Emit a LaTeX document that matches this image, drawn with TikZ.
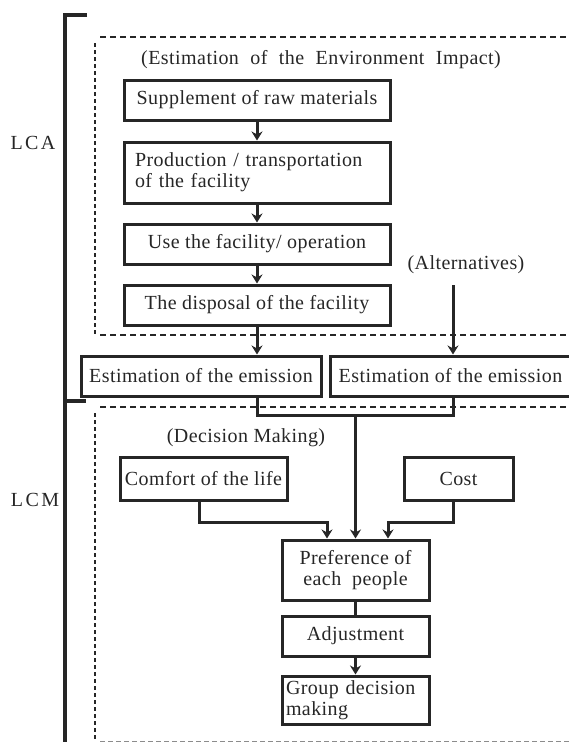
\documentclass[tikz,border=0pt]{standalone}
\usepackage{fontspec}
\setmainfont{Liberation Serif}[LetterSpace=2.2]
\usetikzlibrary{arrows.meta}
\begin{document}
\begin{tikzpicture}[x=1pt,y=-1pt,
  every node/.style={font=\fontsize{20}{21}\selectfont, text=black!85},
  box/.style={draw=black!85, line width=3pt, inner sep=0pt, align=center},
  arr/.style={line width=3pt, draw=black!85, -{Stealth[length=9pt,width=11pt]}},
  ln/.style={line width=3pt, draw=black!85},
  dsh/.style={line width=2.8pt, draw=black!85, dash pattern=on 6pt off 4pt},
  dshv/.style={line width=2.8pt, draw=black!85, dash pattern=on 4pt off 3pt},
  lbl/.style={inner sep=0pt},
  side/.style={inner sep=0pt, font=\fontsize{20}{21}\selectfont\addfontfeatures{LetterSpace=12}}]
\useasboundingbox (0,0) rectangle (569,742);
% bracket
\draw[line width=3.6pt, draw=black!85] (87,15) -- (65,15) -- (65,742);
\draw[line width=3.6pt, draw=black!85] (65,401) -- (86,401);
\node[side] (lca) at (33,143) {LCA};
\node[side] (lcm) at (35,500) {LCM};
% dashed regions
\draw[dsh] (100,37) -- (569,37);
\draw[dshv] (95,43) -- (95,335);
\draw[dsh] (100,335) -- (569,335);
\draw[dsh] (100,407) -- (569,407);
\draw[dshv] (95,413) -- (95,742);
\draw[line width=1pt, draw=black!45, dash pattern=on 5pt off 3pt] (100,741) -- (569,741);
% labels
\node[lbl] (env) at (321,60) {(Estimation\hspace{6pt} of\hspace{6pt} the\hspace{6pt} Environment\hspace{6pt} Impact)};
\node[lbl] (alt) at (466,265) {(Alternatives)};
\node[lbl] (dec) at (246,438) {(Decision Making)};
% boxes
\node[box, minimum width=266pt, minimum height=40pt] (sup) at (257,100) {Supplement of raw materials};
\node[box, minimum width=266pt, minimum height=61pt, text width=244pt, align=left] (prod) at (257,172.5) {Production / transportation\\of the facility};
\node[box, minimum width=266pt, minimum height=40pt] (use) at (257,244) {Use the facility/ operation};
\node[box, minimum width=266pt, minimum height=40pt] (disp) at (257,305) {The disposal of the facility};
\node[box, minimum width=240pt, minimum height=40pt] (em1) at (201,376) {Estimation of the emission};
\node[box, minimum width=241pt, minimum height=40pt] (em2) at (450.5,376) {Estimation of the emission};
\node[box, minimum width=167pt, minimum height=43pt] (comf) at (203.5,478.5) {Comfort of the life};
\node[box, minimum width=109pt, minimum height=43pt] (cost) at (458.5,478.5) {Cost};
\node[box, minimum width=147pt, minimum height=60pt] (pref) at (355.5,570) {Preference of\\each\ \ people};
\node[box, minimum width=147pt, minimum height=40pt] (adj) at (355.5,636) {Adjustment};
\node[box, minimum width=147pt, minimum height=48pt, text width=139pt, align=left] (grp) at (355.5,700) {Group decision\\making};
% connectors
\draw[arr] (sup) -- (prod);
\draw[arr] (prod) -- (use);
\draw[arr] (use) -- (disp);
\draw[arr] (disp.south) -- (disp.south |- em1.north);
\coordinate (a1) at (453,285);
\draw[arr] (a1) -- (a1 |- em2.north);
\coordinate (m1) at (257,415);
\coordinate (m2) at (453,415);
\draw[ln] (m1 |- em1.south) -- (m1) -- (m2) -- (m2 |- em2.south);
\draw[arr] (pref.north |- m1) -- (pref.north);
\coordinate (c1) at (199,522);
\coordinate (c2) at (327,522);
\draw[arr] (c1 |- comf.south) -- (c1) -- (c2) -- (c2 |- pref.north);
\coordinate (k1) at (453,522);
\coordinate (k2) at (388,522);
\draw[arr] (k1 |- cost.south) -- (k1) -- (k2) -- (k2 |- pref.north);
\draw[ln] (pref) -- (adj);
\draw[arr] (adj) -- (grp);
\end{tikzpicture}
\end{document}
